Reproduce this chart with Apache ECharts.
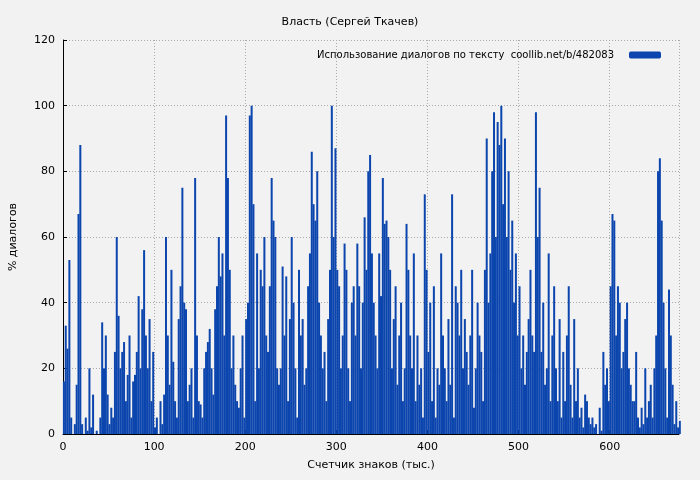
<!DOCTYPE html>
<html><head><meta charset="utf-8">
<script src="https://cdn.jsdelivr.net/npm/echarts@6/dist/echarts.min.js"></script>
<style>html,body{margin:0;background:#f2f2f2}#c{width:700px;height:480px}</style>
</head><body><div id="c"></div>
<script>
// шаг по оси X — 2 тыс. знаков
const step = 2
const xTicks = [0, 100, 200, 300, 400, 500, 600]
const yTicks = [0, 20, 40, 60, 80, 100, 120]
const dialogShare = [
  16,33,26,53,5,0,3,15,67,88,
  3,0,5,1,20,2,12,0,1,0,
  5,34,20,30,12,3,8,5,25,60,
  36,20,25,28,10,18,30,5,16,18,
  25,42,20,38,56,30,20,35,10,25,
  2,5,0,10,3,12,60,30,15,50,
  22,10,5,35,45,75,40,38,10,15,
  20,5,78,30,10,9,5,20,25,28,
  32,20,12,38,45,60,48,55,30,97,
  78,50,20,30,15,10,8,20,30,5,
  35,40,97,100,70,10,55,20,50,45,
  60,30,25,45,78,65,60,20,15,20,
  51,30,48,10,35,60,40,20,5,50,
  30,35,15,20,45,55,86,70,65,80,
  40,30,20,25,10,35,50,100,60,87,
  50,45,20,30,58,50,20,10,40,45,
  30,58,45,20,40,66,50,80,85,55,
  40,30,20,55,42,78,64,65,60,50,
  20,35,45,15,30,40,10,20,64,50,
  30,20,55,10,30,15,20,5,73,50,
  25,40,10,45,5,20,15,55,30,20,
  10,35,15,73,5,45,40,30,50,20,
  35,25,15,30,50,8,20,40,30,25,
  10,50,90,40,55,80,98,60,95,88,
  100,70,90,60,80,50,65,40,55,30,
  45,20,30,15,25,35,50,30,25,98,
  60,75,25,40,15,20,55,10,30,45,
  20,10,35,5,25,10,30,45,15,5,
  35,10,20,5,8,2,12,10,5,3,
  5,2,3,0,8,1,25,15,20,10,
  45,67,65,30,45,40,20,25,35,40,
  20,15,10,10,25,5,2,8,3,20,
  5,10,15,5,20,30,80,84,65,40,
  20,5,44,30,15,3,10,2,4
]

const chart = echarts.init(document.getElementById('c'))
const font = 'DejaVu Sans'
const grid = { show: true, color: '#aaa', type: [1, 2] }
chart.setOption({
  backgroundColor: '#f2f2f2',
  animation: false,
  textStyle: { fontFamily: font },
  title: { text: 'Власть (Сергей Ткачев)', left: 'center', top: 12,
    textStyle: { fontSize: 11, fontWeight: 'normal', color: '#000', fontFamily: font } },
  legend: { top: 45, right: 34, align: 'right', itemWidth: 32, itemHeight: 7, itemGap: 8,
    itemStyle: { borderWidth: 0 },
    textStyle: { fontSize: 10, color: '#000', padding: [0, 10, 0, 0] } },
  grid: { left: 62, right: 21, top: 40, bottom: 46 },
  xAxis: {
    type: 'value', min: 0, max: 676, interval: 100,
    name: 'Счетчик знаков (тыс.)', nameLocation: 'middle', nameGap: 26,
    nameTextStyle: { fontSize: 11, color: '#000' },
    axisLine: { lineStyle: { color: '#000' } },
    axisTick: { inside: true, length: 4, lineStyle: { color: '#000' } },
    axisLabel: { fontSize: 11, color: '#000', showMaxLabel: false,
      formatter: v => xTicks.includes(v) ? String(v) : '' },
    splitLine: { show: true, lineStyle: grid }
  },
  yAxis: {
    type: 'value', min: 0, max: 120, interval: 20,
    name: '% диалогов', nameLocation: 'middle', nameGap: 44, nameRotate: 90,
    nameTextStyle: { fontSize: 11, color: '#000' },
    axisLine: { show: true, lineStyle: { color: '#000' } },
    axisTick: { show: true, inside: true, length: 4, lineStyle: { color: '#000' } },
    axisLabel: { fontSize: 11, color: '#000', formatter: v => yTicks.includes(v) ? String(v) : '' },
    splitLine: { show: true, lineStyle: grid }
  },
  series: [{
    name: 'Использование диалогов по тексту  coollib.net/b/482083',
    type: 'bar', barWidth: 2, itemStyle: { color: '#0b45ad' },
    data: dialogShare.map((v, i) => [i * step + 1, v])
  }]
})
</script></body></html>
